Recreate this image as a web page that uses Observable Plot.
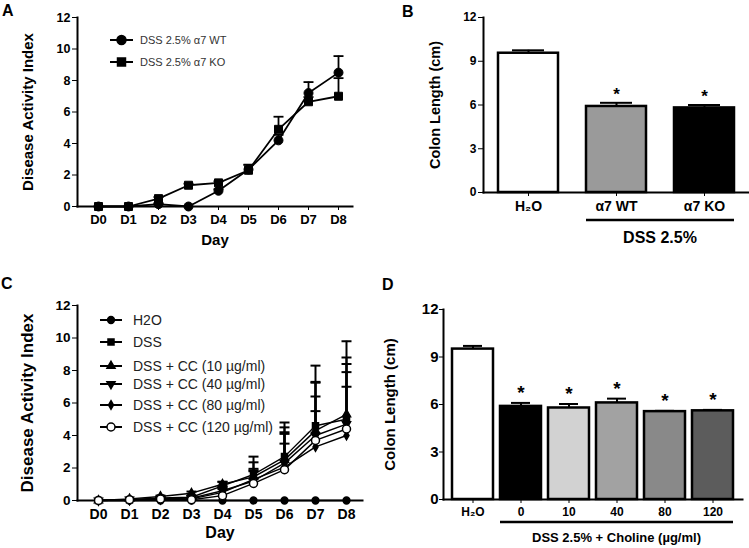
<!DOCTYPE html>
<html><head><meta charset="utf-8">
<script src="https://cdn.jsdelivr.net/npm/d3@7"></script>
<script src="https://cdn.jsdelivr.net/npm/@observablehq/plot@0.6"></script>
<style>
body{margin:0;background:#fff;}
#fig{position:relative;width:749px;height:548px;overflow:hidden;font-family:"Liberation Sans",Arial,Helvetica,sans-serif;background:#fff;}
.plab{position:absolute;font-weight:bold;font-size:16px;line-height:1;}
</style></head><body><div id="fig"></div>
<script>
// ---------- DATA ----------
const days = ["D0","D1","D2","D3","D4","D5","D6","D7","D8"];
const dayLabel = "Day";
const daiLabel = "Disease Activity Index";
const colonLabel = "Colon Length (cm)";

// Panel A
const seriesA = ["DSS 2.5% \u03b17 WT", "DSS 2.5% \u03b17 KO"];
const wtMean = [0, 0, 0.15, 0, 1.0, 2.35, 4.2, 7.2, 8.5];
const wtErr  = [0, 0, 0.05, 0, 0.1, 0.3, 0.35, 0.7, 1.05];
const koMean = [0, 0, 0.5, 1.35, 1.5, 2.3, 4.9, 6.65, 7.0];
const koErr  = [0, 0, 0.1, 0.1, 0.1, 0.35, 0.8, 0.3, 1.15];

// Panel B
const groupsB = ["H\u2082O", "\u03b17 WT", "\u03b17 KO"];
const lengthB = [9.55, 5.9, 5.8];
const errB    = [0.2, 0.25, 0.2];
const sigB    = ["", "*", "*"];
const bracketB = "DSS 2.5%";

// Panel C
const seriesC = ["H2O", "DSS", "DSS + CC (10 \u00b5g/ml)", "DSS + CC (40 \u00b5g/ml)", "DSS + CC (80 \u00b5g/ml)", "DSS + CC (120 \u00b5g/ml)"];
const h2oC   = [0, 0, 0, 0, 0, 0, 0, 0, 0];
const h2oErr = [0, 0, 0, 0, 0, 0, 0, 0, 0];
const dssC   = [0, 0.05, 0.15, 0.2, 0.9, 1.6, 2.7, 4.6, 5.0];
const dssErr = [0, 0, 0.05, 0.1, 0.25, 1.1, 2.1, 3.7, 4.8];
const cc10C  = [0, 0.1, 0.25, 0.45, 1.0, 1.45, 2.5, 4.3, 5.3];
const cc10Err= [0, 0, 0.05, 0.1, 0.15, 0.9, 2.0, 3.0, 3.5];
const cc40C  = [0, 0.05, 0.1, 0.15, 0.6, 1.2, 2.3, 4.0, 4.7];
const cc40Err= [0, 0, 0.05, 0.05, 0.3, 0.65, 1.8, 2.4, 3.2];
const cc80C  = [0, 0, 0.05, 0.1, 0.5, 1.3, 2.05, 3.3, 4.0];
const cc80Err= [0, 0, 0.05, 0.05, 0.3, 0.5, 1.45, 2.2, 3.0];
const cc120C = [0, 0.05, 0.1, 0.05, 0.3, 1.05, 1.9, 3.7, 4.4];
const cc120Err=[0, 0, 0.05, 0.05, 0.4, 0.9, 2.3, 3.55, 4.0];

// Panel D
const groupsD = ["H\u2082O", "0", "10", "40", "80", "120"];
const lengthD = [9.5, 5.88, 5.78, 6.1, 5.55, 5.6];
const errD    = [0.2, 0.22, 0.25, 0.27, 0.05, 0.06];
const sigD    = ["", "*", "*", "*", "*", "*"];
const bracketD = "DSS 2.5% + Choline (\u00b5g/ml)";

// ---------- STYLE ----------
const FONT = '"Liberation Sans", Arial, Helvetica, sans-serif';
const fillsB = ["#ffffff", "#9a9a9a", "#000000"];
const fillsD = ["#ffffff", "#000000", "#d2d2d2", "#a2a2a2", "#898989", "#5c5c5c"];
const triangleDown = {
  draw(ctx, size) {
    const y = -Math.sqrt(size / (3 * Math.sqrt(3)));
    ctx.moveTo(0, -y * 2);
    ctx.lineTo(-Math.sqrt(3) * y, y);
    ctx.lineTo(Math.sqrt(3) * y, y);
    ctx.closePath();
  }
};
// horizontal error-bar cap (half width = r)
const capSymbol = {
  draw(ctx, size) {
    const w = Math.sqrt(size / Math.PI);
    ctx.moveTo(-w, 0);
    ctx.lineTo(w, 0);
  }
};
const symA = [{type: d3.symbolCircle, r: 4.5, fill: "#000"}, {type: d3.symbolSquare, r: 4.5, fill: "#000"}];
const symC = [
  {type: d3.symbolCircle, r: 3.4, fill: "#000"},
  {type: d3.symbolSquare, r: 3.4, fill: "#000"},
  {type: d3.symbolTriangle, r: 3.0, fill: "#000"},
  {type: triangleDown, r: 3.0, fill: "#000"},
  {type: d3.symbolDiamond, r: 2.6, fill: "#000"},
  {type: d3.symbolCircle, r: 4.0, fill: "#fff"}
];

const fig = document.getElementById("fig");
function st(size) {
  return {fontFamily: FONT, fontSize: size + "px", fontWeight: "bold", color: "#000", background: "transparent", overflow: "visible"};
}
function place(node, left, top) {
  node.style.position = "absolute";
  node.style.left = left + "px";
  node.style.top = top + "px";
  fig.appendChild(node);
  return node;
}
function label(txt, left, top) {
  const d = document.createElement("div");
  d.className = "plab"; d.textContent = txt;
  d.style.left = left + "px"; d.style.top = top + "px";
  fig.appendChild(d);
}
function tidy(series, means, errs) {
  return series.flatMap((s, k) => days.map((d, i) => ({series: s, k, day: d, mean: means[k][i], err: errs[k][i]})));
}
function drawLegend(svg, names, syms, o) {
  const g = d3.select(svg).append("g").attr("text-anchor", "start");
  names.forEach((name, k) => {
    const y = o.ys[k];
    g.append("line").attr("x1", o.x0).attr("x2", o.x1).attr("y1", y).attr("y2", y)
      .attr("stroke", "#000").attr("stroke-width", 2);
    const s = syms[k];
    g.append("path").attr("transform", `translate(${(o.x0 + o.x1) / 2},${y})`)
      .attr("d", d3.symbol(s.type, Math.PI * s.r * s.r)())
      .attr("fill", s.fill).attr("stroke", "#000").attr("stroke-width", 1.5);
    g.append("text").attr("x", o.xt).attr("y", y).attr("dy", "0.36em").attr("text-anchor", "start")
      .attr("font-family", FONT).attr("font-size", o.fontSize).attr("font-weight", "normal")
      .attr("fill", o.color).text(name);
  });
}

// ---------- PANEL A ----------
const tidyA = tidy(seriesA, [wtMean, koMean], [wtErr, koErr]);
const errA = tidyA.filter(d => d.err > 0);
const plotA = Plot.plot({
  width: 375, height: 260, marginLeft: 77, marginRight: 23, marginTop: 17, marginBottom: 54,
  style: st(13),
  x: {type: "point", domain: days, range: [97, 338], padding: 0, label: null},
  y: {domain: [0, 12], label: null},
  marks: [
    Plot.axisY({ticks: [0, 2, 4, 6, 8, 10, 12], tickSize: 5, tickPadding: 2, label: null, fontSize: 12.5}),
    Plot.axisX({tickSize: 4, tickPadding: 4, label: null}),
    Plot.frame({anchor: "left", strokeWidth: 2}),
    Plot.frame({anchor: "bottom", strokeWidth: 2}),
    Plot.text([daiLabel], {frameAnchor: "left", textAnchor: "middle", rotate: -90, dx: -49, fontSize: 15}),
    Plot.text([dayLabel], {frameAnchor: "bottom", dy: 38, fontSize: 15}),
    Plot.ruleX(errA, {x: "day", y1: "mean", y2: d => d.mean + d.err, strokeWidth: 1.8}),
    Plot.dot(errA, {x: "day", y: d => d.mean + d.err, symbol: capSymbol, r: 5, stroke: "#000", fill: "none", strokeWidth: 1.8}),
    Plot.line(tidyA, {x: "day", y: "mean", z: "series", strokeWidth: 1.8}),
    ...seriesA.map((s, k) => Plot.dot(tidyA.filter(d => d.k === k), {x: "day", y: "mean", symbol: symA[k].type, r: symA[k].r, fill: symA[k].fill, stroke: "#000", strokeWidth: 1}))
  ]
});
place(plotA, 0, 0);
drawLegend(plotA, seriesA, symA, {x0: 110, x1: 133, xt: 140, ys: [40, 62], fontSize: 11, color: "#333"});

// ---------- PANEL B ----------
const tidyB = groupsB.map((g, i) => ({group: g, value: lengthB[i], err: errB[i], sig: sigB[i], fill: fillsB[i]}));
const plotB = Plot.plot({
  width: 369, height: 260, marginLeft: 103, marginRight: 1, marginTop: 17, marginBottom: 68,
  style: st(12),
  color: {type: "identity"},
  x: {type: "band", domain: groupsB, paddingInner: 0.32, paddingOuter: 0.16, label: null},
  y: {domain: [0, 12], label: null},
  marks: [
    Plot.axisY({ticks: [0, 3, 6, 9, 12], tickSize: 5, tickPadding: 2, label: null}),
    Plot.axisX({tickSize: 4, tickPadding: 5, label: null, fontSize: 14}),
    Plot.text([colonLabel], {frameAnchor: "left", textAnchor: "middle", rotate: -90, dx: -48, fontSize: 14.5}),
    Plot.ruleX(tidyB, {x: "group", y1: "value", y2: d => d.value + d.err, strokeWidth: 2}),
    Plot.tickY(tidyB, {x: "group", y: d => d.value + d.err, insetLeft: 14, insetRight: 14, strokeWidth: 2}),
    Plot.barY(tidyB, {x: "group", y: "value", fill: "fill", stroke: "#000", strokeWidth: 2.5}),
    Plot.text(tidyB.filter(d => d.sig), {x: "group", y: d => d.value + d.err, text: "sig", dy: -8, fontSize: 17}),
    Plot.frame({anchor: "left", strokeWidth: 2}),
    Plot.frame({anchor: "bottom", strokeWidth: 2})
  ]
});
place(plotB, 380, 0);
{
  const xs = plotB.scale("x");
  const x1 = xs.apply(groupsB[1]), x2 = xs.apply(groupsB[2]) + xs.bandwidth;
  const g = d3.select(plotB).append("g");
  g.append("line").attr("x1", x1).attr("x2", x2).attr("y1", 220).attr("y2", 220).attr("stroke", "#000").attr("stroke-width", 2.5);
  g.append("text").attr("x", (x1 + x2) / 2).attr("y", 237).attr("dy", "0.36em").attr("text-anchor", "middle")
    .attr("font-family", FONT).attr("font-size", 16).attr("font-weight", "bold").text(bracketB);
}

// ---------- PANEL C ----------
const tidyC = tidy(seriesC, [h2oC, dssC, cc10C, cc40C, cc80C, cc120C], [h2oErr, dssErr, cc10Err, cc40Err, cc80Err, cc120Err]);
const errC = tidyC.filter(d => d.err > 0);
const plotC = Plot.plot({
  width: 375, height: 278, marginLeft: 77, marginRight: 13, marginTop: 35, marginBottom: 48,
  style: st(14),
  x: {type: "point", domain: days, range: [97, 346], padding: 0, label: null},
  y: {domain: [0, 12], label: null},
  marks: [
    Plot.axisY({ticks: [0, 2, 4, 6, 8, 10, 12], tickSize: 5, tickPadding: 2, label: null, fontSize: 13.5}),
    Plot.axisX({tickSize: 4, tickPadding: 5, label: null}),
    Plot.frame({anchor: "left", strokeWidth: 2}),
    Plot.frame({anchor: "bottom", strokeWidth: 2}),
    Plot.text([daiLabel], {frameAnchor: "left", textAnchor: "middle", rotate: -90, dx: -50, fontSize: 17}),
    Plot.text([dayLabel], {frameAnchor: "bottom", dy: 37, fontSize: 16}),
    Plot.ruleX(errC, {x: "day", y1: "mean", y2: d => d.mean + d.err, strokeWidth: 2}),
    Plot.dot(errC, {x: "day", y: d => d.mean + d.err, symbol: capSymbol, r: 5, stroke: "#000", fill: "none", strokeWidth: 2}),
    Plot.line(tidyC, {x: "day", y: "mean", z: "series", strokeWidth: 1.4}),
    ...seriesC.map((s, k) => Plot.dot(tidyC.filter(d => d.k === k), {x: "day", y: "mean", symbol: symC[k].type, r: symC[k].r, fill: symC[k].fill, stroke: "#000", strokeWidth: 1.5}))
  ]
});
place(plotC, 0, 270);
drawLegend(plotC, seriesC, symC, {x0: 100, x1: 122, xt: 133, ys: [50, 72, 96, 114, 135, 157], fontSize: 14, color: "#222"});

// ---------- PANEL D ----------
const tidyD = groupsD.map((g, i) => ({group: g, value: lengthD[i], err: errD[i], sig: sigD[i], fill: fillsD[i]}));
const plotD = Plot.plot({
  width: 369, height: 278, marginLeft: 63, marginRight: 7, marginTop: 39, marginBottom: 49,
  style: st(12),
  color: {type: "identity"},
  x: {type: "band", domain: groupsD, paddingInner: 0.14, paddingOuter: 0.14, label: null},
  y: {domain: [0, 12], label: null},
  marks: [
    Plot.axisY({ticks: [0, 3, 6, 9, 12], tickSize: 4, tickPadding: 1, label: null, fontSize: 15}),
    Plot.axisX({tickSize: 4, tickPadding: 4, label: null, fontSize: 12}),
    Plot.text([colonLabel], {frameAnchor: "left", textAnchor: "middle", rotate: -90, dx: -53, fontSize: 15}),
    Plot.ruleX(tidyD, {x: "group", y1: "value", y2: d => d.value + d.err, strokeWidth: 2}),
    Plot.tickY(tidyD, {x: "group", y: d => d.value + d.err, insetLeft: 11, insetRight: 11, strokeWidth: 2}),
    Plot.barY(tidyD, {x: "group", y: "value", fill: "fill", stroke: "#000", strokeWidth: 2.5}),
    Plot.text(tidyD.filter(d => d.sig), {x: "group", y: d => d.value + d.err, text: "sig", dy: -10, fontSize: 19}),
    Plot.frame({anchor: "left", strokeWidth: 2}),
    Plot.frame({anchor: "bottom", strokeWidth: 2})
  ]
});
place(plotD, 380, 270);
{
  const xs = plotD.scale("x");
  const x1 = xs.apply(groupsD[1]), x2 = xs.apply(groupsD[5]) + xs.bandwidth;
  const g = d3.select(plotD).append("g");
  g.append("line").attr("x1", x1).attr("x2", x2).attr("y1", 252).attr("y2", 252).attr("stroke", "#000").attr("stroke-width", 2.5);
  g.append("text").attr("x", (x1 + x2) / 2).attr("y", 267).attr("dy", "0.36em").attr("text-anchor", "middle")
    .attr("font-family", FONT).attr("font-size", 13).attr("font-weight", "bold").text(bracketD);
}

// panel letters
label("A", 2, 3);
label("B", 402, 4);
label("C", 1, 276);
label("D", 382, 277);
</script>
</body></html>
